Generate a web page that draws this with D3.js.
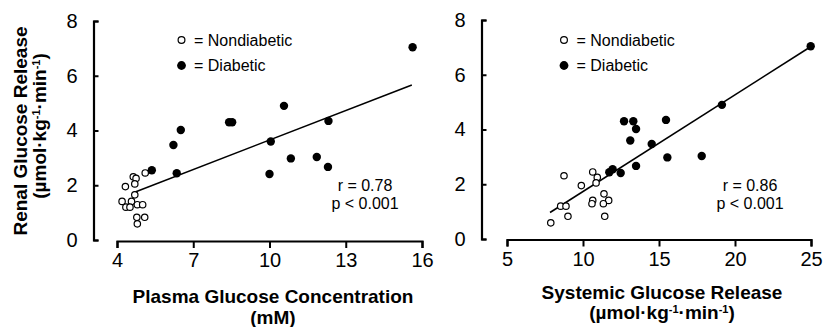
<!DOCTYPE html>
<html>
<head>
<meta charset="utf-8">
<script src="https://cdn.jsdelivr.net/npm/d3@7"></script>
<style>
  body { margin: 0; background: #fff; }
  svg { display: block; font-family: "Liberation Sans", Arial, sans-serif; }
</style>
</head>
<body>
<div class="chart"></div>
<script>
// renal glucose release, same patients in both panels
const renalNon = [2.45, 2.31, 2.25, 2.05, 1.95, 1.65, 1.41, 1.41, 1.29, 1.29, 1.2, 1.2, 0.83, 0.83, 0.59];
const plasmaNon = [5.11, 4.64, 4.75, 4.70, 4.33, 4.70, 4.20, 4.57, 4.80, 5.01, 4.35, 4.51, 4.78, 5.09, 4.80];
const systemicNon = [10.64, 8.75, 10.94, 10.86, 9.89, 11.38, 11.69, 10.64, 10.59, 11.34, 8.53, 8.88, 9.01, 11.43, 7.88];

const renalDia = [7.04, 4.9, 4.3, 4.3, 4.35, 4.02, 3.47, 3.6, 2.98, 3.03, 2.67, 2.41, 2.44, 2.55];
const plasmaDia = [15.63, 10.57, 8.41, 8.53, 12.32, 6.51, 6.22, 10.05, 10.84, 11.86, 12.30, 10.0, 6.35, 5.37];
const systemicDia = [24.98, 19.14, 12.70, 13.31, 15.46, 13.49, 14.52, 13.11, 15.55, 17.81, 13.49, 12.48, 11.73, 11.95];

// regression lines: [slope, intercept], x range
const fitPlasma = [0.3586, 0.066];
const fitPlasmaRange = [4.64, 15.6];
const fitSystemic = [0.3531, -1.795];
const fitSystemicRange = [7.83, 25.05];

const yTicks = [0, 2, 4, 6, 8];
const plasmaTicks = [4, 7, 10, 13, 16];
const systemicTicks = [5, 10, 15, 20, 25];
const stats = [["r = 0.78", "p < 0.001"], ["r = 0.86", "p < 0.001"]];

const width = 832, height = 327;
const svg = d3.select('.chart').append('svg')
  .attr('width', width)
  .attr('height', height);

const panels = [
  {xNon: plasmaNon, xDia: plasmaDia, fit: fitPlasma, fitRange: fitPlasmaRange,
   xDomain: [4, 16], xRange: [117, 422], xTicks: plasmaTicks, yRange: [240, 21],
   yAxisX: 93.5, xAxisY: 241, legendX: 181.5, statX: 365, stat: stats[0]},
  {xNon: systemicNon, xDia: systemicDia, fit: fitSystemic, fitRange: fitSystemicRange,
   xDomain: [5, 25], xRange: [507, 811], xTicks: systemicTicks, yRange: [239, 20],
   yAxisX: 481.5, xAxisY: 239.5, legendX: 564, statX: 750, stat: stats[1]}
];

panels.forEach((p, k) => {
  const x = d3.scaleLinear().domain(p.xDomain).range(p.xRange);
  const y = d3.scaleLinear().domain([0, 8]).range(p.yRange);
  const g = svg.append('g');

  const yAxis = g.append('g')
    .attr('transform', `translate(${p.yAxisX},0)`)
    .call(d3.axisLeft(y).tickValues(yTicks).tickSizeInner(-5).tickSizeOuter(-5).tickPadding(16));
  const xAxis = g.append('g')
    .attr('transform', `translate(0,${p.xAxisY})`)
    .call(d3.axisBottom(x).tickValues(p.xTicks).tickSizeInner(7).tickSizeOuter(7).tickPadding(5));
  [yAxis, xAxis].forEach(a => {
    a.select('.domain').attr('stroke', '#000').attr('stroke-width', 2.2);
    a.selectAll('.tick line').attr('stroke', '#000').attr('stroke-width', 2);
    a.selectAll('.tick text').attr('font-size', 20).attr('fill', '#000')
      .attr('font-family', '"Liberation Sans", Arial, sans-serif');
  });

  // regression line
  g.append('line')
    .attr('x1', x(p.fitRange[0])).attr('y1', y(p.fit[0] * p.fitRange[0] + p.fit[1]))
    .attr('x2', x(p.fitRange[1])).attr('y2', y(p.fit[0] * p.fitRange[1] + p.fit[1]))
    .attr('stroke', '#000').attr('stroke-width', 1.6);

  g.selectAll('circle.non')
    .data(p.xNon.map((v, i) => [v, renalNon[i]]))
    .enter().append('circle')
    .attr('class', 'non')
    .attr('cx', d => x(d[0])).attr('cy', d => y(d[1]))
    .attr('r', 3.2).attr('fill', '#fff').attr('stroke', '#000').attr('stroke-width', 1.2);

  g.selectAll('circle.dia')
    .data(p.xDia.map((v, i) => [v, renalDia[i]]))
    .enter().append('circle')
    .attr('class', 'dia')
    .attr('cx', d => x(d[0])).attr('cy', d => y(d[1]))
    .attr('r', 4.2).attr('fill', '#000');

  // legend
  g.append('circle').attr('cx', p.legendX).attr('cy', 40).attr('r', 3.4)
    .attr('fill', '#fff').attr('stroke', '#000').attr('stroke-width', 1.2);
  g.append('circle').attr('cx', p.legendX).attr('cy', 65.5).attr('r', 4.4).attr('fill', '#000');
  g.append('text').attr('x', p.legendX + 12.5).attr('y', 45.5)
    .attr('font-size', 16).text('= Nondiabetic');
  g.append('text').attr('x', p.legendX + 12.5).attr('y', 70.5)
    .attr('font-size', 16).text('= Diabetic');

  g.selectAll('text.stat')
    .data(p.stat)
    .enter().append('text')
    .attr('class', 'stat')
    .attr('x', p.statX)
    .attr('y', (d, i) => 191 + i * 17.5)
    .attr('text-anchor', 'middle')
    .attr('font-size', 16)
    .text(d => d);
});

// axis titles
const unit = t => {
  t.append('tspan').text('(µmol·kg');
  t.append('tspan').attr('dy', -6).attr('font-size', 11).text('-1');
  t.append('tspan').attr('dy', 6).text('·min');
  t.append('tspan').attr('dy', -6).attr('font-size', 11).text('-1');
  t.append('tspan').attr('dy', 6).text(')');
};

svg.append('text')
  .attr('transform', 'translate(27,131) rotate(-90)')
  .attr('text-anchor', 'middle').attr('font-size', 19).attr('font-weight', 'bold')
  .text('Renal Glucose Release');
svg.append('text')
  .attr('transform', 'translate(46,126) rotate(-90)')
  .attr('text-anchor', 'middle').attr('font-size', 19).attr('font-weight', 'bold')
  .call(unit);

svg.append('text')
  .attr('x', 273).attr('y', 303)
  .attr('text-anchor', 'middle').attr('font-size', 19).attr('font-weight', 'bold')
  .text('Plasma Glucose Concentration');
svg.append('text')
  .attr('x', 273).attr('y', 324)
  .attr('text-anchor', 'middle').attr('font-size', 19).attr('font-weight', 'bold')
  .text('(mM)');

svg.append('text')
  .attr('x', 662).attr('y', 299)
  .attr('text-anchor', 'middle').attr('font-size', 19).attr('font-weight', 'bold')
  .text('Systemic Glucose Release');
svg.append('text')
  .attr('x', 662).attr('y', 319)
  .attr('text-anchor', 'middle').attr('font-size', 19).attr('font-weight', 'bold')
  .call(unit);
</script>
</body>
</html>
